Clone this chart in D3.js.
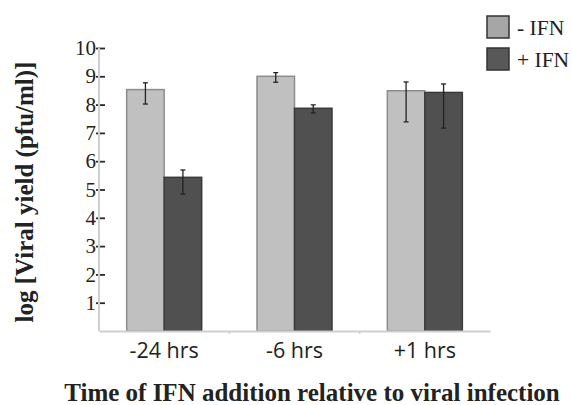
<!DOCTYPE html>
<html>
<head>
<meta charset="utf-8">
<script src="https://cdn.jsdelivr.net/npm/d3@7"></script>
<style>
  body { margin: 0; background: #fff; }
  .serif { font-family: "Liberation Serif", "DejaVu Serif", serif; }
  .sans { font-family: "Open Sans", "Liberation Sans", sans-serif; }
</style>
</head>
<body>
<div id="chart"></div>
<script>
var svgWidth = 572;
var svgHeight = 405;

var margin = { top: 48, right: 82, bottom: 74, left: 99 };

var width = svgWidth - margin.left - margin.right;
var height = svgHeight - margin.top - margin.bottom;

// data
var categories = ["-24 hrs", "-6 hrs", "+1 hrs"];
var seriesNames = ["- IFN", "+ IFN"];
var minusIFN = [8.53, 9.0, 8.49];
var plusIFN = [5.43, 7.87, 8.43];
var minusErrHigh = [8.77, 9.13, 8.8];
var minusErrLow = [8.02, 8.79, 7.39];
var plusErrHigh = [5.69, 7.99, 8.73];
var plusErrLow = [4.84, 7.71, 7.17];
var yTicks = [1, 2, 3, 4, 5, 6, 7, 8, 9, 10];

var fills = ["#c0c0c0", "#505050"];
var strokes = ["#8c8c8c", "#3a3a3a"];

var rows = [];
categories.forEach(function(c, i) {
    rows.push({ cat: c, s: 0, v: minusIFN[i], hi: minusErrHigh[i], lo: minusErrLow[i] });
    rows.push({ cat: c, s: 1, v: plusIFN[i], hi: plusErrHigh[i], lo: plusErrLow[i] });
});

var svg = d3.select("#chart")
    .append("svg")
    .attr("width", svgWidth)
    .attr("height", svgHeight);

var chartGroup = svg.append("g")
    .attr("transform", `translate(${margin.left}, ${margin.top})`);

var xScale = d3.scaleBand()
    .domain(categories)
    .range([0, width]);

var xInner = d3.scaleBand()
    .domain([0, 1])
    .range([0, 75]);

var yScale = d3.scaleLinear()
    .domain([0, 10])
    .range([height, 0]);

// bars
chartGroup.selectAll("rect.bar")
    .data(rows)
    .enter()
    .append("rect")
    .attr("class", "bar")
    .attr("x", d => xScale(d.cat) + (xScale.bandwidth() - 75) / 2 + xInner(d.s))
    .attr("y", d => yScale(d.v))
    .attr("width", xInner.bandwidth())
    .attr("height", d => height - yScale(d.v))
    .attr("fill", d => fills[d.s])
    .attr("stroke", d => strokes[d.s])
    .attr("stroke-width", 1.5);

// error bars
var errG = chartGroup.selectAll("g.err")
    .data(rows)
    .enter()
    .append("g")
    .attr("class", "err")
    .attr("transform", d => `translate(${xScale(d.cat) + (xScale.bandwidth() - 75) / 2 + xInner(d.s) + xInner.bandwidth() / 2}, 0)`);

errG.append("line")
    .attr("y1", d => yScale(d.hi))
    .attr("y2", d => yScale(d.lo))
    .attr("stroke", "#222")
    .attr("stroke-width", 1.3);

errG.append("line")
    .attr("x1", -2.5).attr("x2", 2.5)
    .attr("y1", d => yScale(d.hi))
    .attr("y2", d => yScale(d.hi))
    .attr("stroke", "#222")
    .attr("stroke-width", 1.3);

errG.append("line")
    .attr("x1", -2.5).attr("x2", 2.5)
    .attr("y1", d => yScale(d.lo))
    .attr("y2", d => yScale(d.lo))
    .attr("stroke", "#222")
    .attr("stroke-width", 1.3);

// y axis: ticks from the axis, labels drawn as plain text
var leftAxis = d3.axisLeft(yScale)
    .tickValues(yTicks)
    .tickSize(0)
    .tickFormat("");

var yAxisG = chartGroup.append("g")
    .call(leftAxis);

yAxisG.select(".domain").remove();
yAxisG.selectAll(".tick line").remove();
yAxisG.selectAll(".tick").append("line")
    .attr("x1", -3).attr("x2", 6)
    .attr("stroke", "#2a2a2a")
    .attr("stroke-width", 1.8);

chartGroup.selectAll("text.ylabel")
    .data(yTicks)
    .enter()
    .append("text")
    .attr("class", "ylabel serif")
    .attr("x", -3)
    .attr("y", d => yScale(d))
    .attr("dy", "0.34em")
    .attr("text-anchor", "end")
    .attr("font-size", 21)
    .attr("fill", "#222")
    .text(d => d);

chartGroup.append("line")
    .attr("x1", 0).attr("x2", 0)
    .attr("y1", yScale(10)).attr("y2", height)
    .attr("stroke", "#cfcfcf")
    .attr("stroke-width", 2);

// x axis
var bottomAxis = d3.axisBottom(xScale)
    .tickSize(0)
    .tickPadding(12);

var xAxisG = chartGroup.append("g")
    .attr("transform", `translate(0, ${height})`)
    .call(bottomAxis);

xAxisG.select(".domain")
    .attr("stroke", "#cfcfcf")
    .attr("stroke-width", 2);
xAxisG.selectAll(".tick text")
    .attr("class", "sans")
    .attr("font-size", 21.5)
    .attr("fill", "#222");

xAxisG.selectAll("line.sep")
    .data(categories.slice(1))
    .enter()
    .append("line")
    .attr("class", "sep")
    .attr("x1", d => xScale(d)).attr("x2", d => xScale(d))
    .attr("y1", 0).attr("y2", 3)
    .attr("stroke", "#cfcfcf")
    .attr("stroke-width", 1.5);

// axis titles
svg.append("text")
    .attr("class", "serif")
    .attr("transform", "translate(33, 192) rotate(-90)")
    .attr("text-anchor", "middle")
    .attr("font-size", 25)
    .attr("font-weight", "bold")
    .attr("fill", "#222")
    .text("log [Viral yield (pfu/ml)]");

svg.append("text")
    .attr("class", "serif")
    .attr("x", 312)
    .attr("y", 401)
    .attr("text-anchor", "middle")
    .attr("font-size", 25)
    .attr("font-weight", "bold")
    .attr("fill", "#222")
    .text("Time of IFN addition relative to viral infection");

// legend
var legendFills = ["#a6a6a6", "#585858"];
var legend = svg.selectAll("g.legend")
    .data(seriesNames)
    .enter()
    .append("g")
    .attr("class", "legend")
    .attr("transform", (d, i) => `translate(487, ${16 + i * 32})`);

legend.append("rect")
    .attr("width", 22)
    .attr("height", 22)
    .attr("fill", (d, i) => legendFills[i])
    .attr("stroke", "#333")
    .attr("stroke-width", 1.5);

legend.append("text")
    .attr("class", "serif")
    .attr("x", 30)
    .attr("y", 19)
    .attr("font-size", 21.5)
    .attr("fill", "#222")
    .text(d => d);
</script>
</body>
</html>
